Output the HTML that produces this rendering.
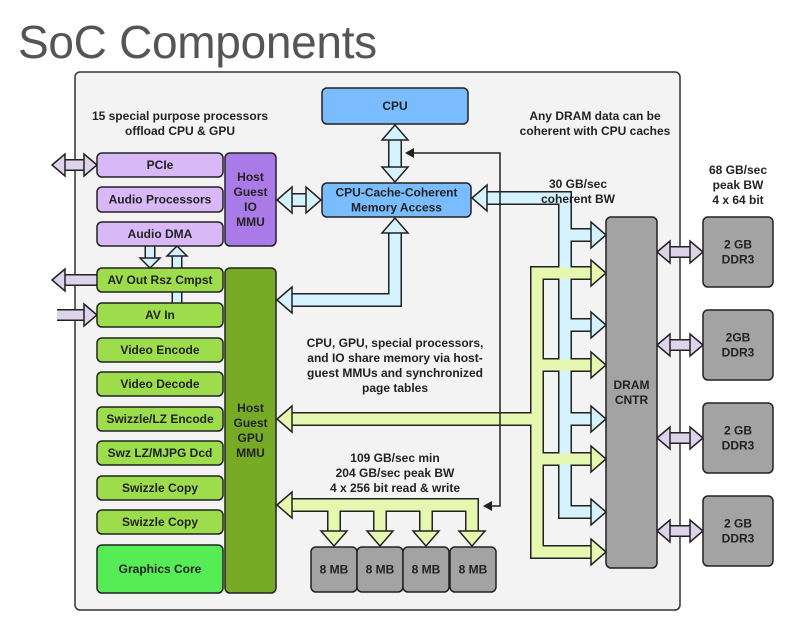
<!DOCTYPE html>
<html><head><meta charset="utf-8"><style>
body{margin:0;background:#fff;width:800px;height:618px;overflow:hidden;font-family:"Liberation Sans",sans-serif}
</style></head><body>
<svg id="s" width="800" height="618" xmlns="http://www.w3.org/2000/svg" font-family="Liberation Sans, sans-serif">
<text x="18" y="58" font-size="46" fill="#555" font-weight="normal" style="letter-spacing:-0.3px">SoC Components</text>
<rect x="75" y="72" width="605" height="538" rx="5" fill="#f3f3f3" stroke="#333" stroke-width="1.5"/>
<g id="arrows"></g>
<g id="boxes" stroke="#222" stroke-width="1.5"></g>
<g font-size="12" font-weight="bold" fill="#222" text-anchor="middle">
<text x="180" y="120">15 special purpose processors</text>
<text x="180" y="135">offload CPU &amp; GPU</text>
<text x="595" y="120">Any DRAM data can be</text>
<text x="595" y="135">coherent with CPU caches</text>
<text x="578" y="188">30 GB/sec</text>
<text x="578" y="203">coherent BW</text>
<text x="738" y="174">68 GB/sec</text>
<text x="738" y="189">peak BW</text>
<text x="738" y="204">4 x 64 bit</text>
<text x="395" y="347">CPU, GPU, special processors,</text>
<text x="395" y="362">and IO share memory via host-</text>
<text x="395" y="377">guest MMUs and synchronized</text>
<text x="395" y="392">page tables</text>
<text x="395" y="462">109 GB/sec min</text>
<text x="395" y="477">204 GB/sec peak BW</text>
<text x="395" y="492">4 x 256 bit read &amp; write</text>
</g>
</svg>
<script>
const A=document.getElementById('arrows'),B=document.getElementById('boxes'),S=document.getElementById('s');
const NS='http://www.w3.org/2000/svg';
function el(p,t,at){const e=document.createElementNS(NS,t);for(const k in at)e.setAttribute(k,at[k]);p.appendChild(e);return e;}
function shaft(d,c,w){w=w||11;el(A,'path',{d:d,fill:'none',stroke:'#222','stroke-width':w+3,'stroke-linejoin':'miter','stroke-linecap':'butt'});
 return ()=>el(A,'path',{d:d,fill:'none',stroke:c,'stroke-width':w,'stroke-linejoin':'miter','stroke-linecap':'butt'});}
let later=[],heads=[];
function S_(d,c,w){later.push(shaft(d,c,w));}
function H(x,y,dir,c,L,W){L=L||15;W=W||13;let p;
 if(dir=='r')p=[[x,y],[x-L,y-W],[x-L,y+W]];
 if(dir=='l')p=[[x,y],[x+L,y-W],[x+L,y+W]];
 if(dir=='u')p=[[x,y],[x-W,y+L],[x+W,y+L]];
 if(dir=='d')p=[[x,y],[x-W,y-L],[x+W,y-L]];
 heads.push([p.map(q=>q.join(',')).join(' '),c]);}
const BL='#d4f3ff',GR='#e6f8b0',LV='#ddd3ea';
// blue
S_('M395,138 V169',BL);H(395,125,'u',BL);H(395,182,'d',BL);
S_('M290,200 H308',BL);H(277,200,'l',BL);H(321,200,'r',BL);
S_('M395,232 V300 H291',BL);H(395,218,'u',BL);H(277,300,'l',BL);
S_('M486,198 H565 V512 H592',BL);H(472,198,'l',BL);
[235,325,419].forEach(y=>S_('M565,'+y+' H592',BL));
[235,325,419,512].forEach(y=>H(606,y,'r',BL));
// green
S_('M291,419 H537',GR);H(277,419,'l',GR);
S_('M592,273 H537 V552 H592',GR);
[365,459].forEach(y=>S_('M537,'+y+' H592',GR));
[273,365,459,552].forEach(y=>H(606,y,'r',GR));
S_('M291,505 H472 V533',GR);
[334,380,426].forEach(x=>S_('M'+x+',505 V533',GR));
H(277,505,'l',GR);[334,380,426,472].forEach(x=>H(x,546,'d',GR));
// lavender
S_('M64,165 H85',LV,9);H(52,165,'l',LV,13,11);H(97,165,'r',LV,13,11);
S_('M64,280 H97',LV,9);H(52,280,'l',LV,13,11);
S_('M57,315 H85',LV,9);H(97,315,'r',LV,13,11);
[252,345,438,531].forEach(y=>{S_('M669,'+y+' H691',LV,9);H(657,y,'l',LV,13,11);H(703,y,'r',LV,13,11);});
// small blue
S_('M150,246 V258',BL,8);H(150,268,'d',BL,10,10);
S_('M177,303 V256',BL,8);H(177,246,'u',BL,10,10);
later.forEach(f=>f());
heads.forEach(h=>el(A,'polygon',{points:h[0],fill:h[1],stroke:'#222','stroke-width':1.5,'stroke-linejoin':'miter'}));
// thin black line
el(A,'path',{d:'M412,153 H500 V506 H490',fill:'none',stroke:'#222','stroke-width':1.5});
el(A,'polygon',{points:'405,153 414,148 414,158',fill:'#222'});
el(A,'polygon',{points:'483,506 492,501 492,511',fill:'#222'});
// boxes
function box(x,y,w,h,c,lines,fs){el(B,'rect',{x:x,y:y,width:w,height:h,rx:5,fill:c});
 const n=lines.length,lh=15,cy=y+h/2-(n-1)*lh/2+4;
 lines.forEach((t,i)=>{const e=el(S,'text',{x:x+w/2,y:cy+i*lh,'font-size':fs||12,'font-weight':'bold',fill:'#222','text-anchor':'middle'});e.textContent=t;});}
const LP='#d9b8f7',DP='#aa7ae8',LG='#9ddc4a',DG='#77ab26';
box(97,153,126,24,LP,['PCIe']);box(97,187,126,25,LP,['Audio Processors']);box(97,222,126,24,LP,['Audio DMA']);
box(225,153,51,93,DP,['Host','Guest','IO','MMU']);
box(97,268,126,24,LG,['AV Out  Rsz Cmpst']);box(97,303,126,24,LG,['AV In']);
box(97,338,126,24,LG,['Video Encode']);box(97,372,126,24,LG,['Video Decode']);
box(97,407,126,24,LG,['Swizzle/LZ Encode']);box(97,441,126,24,LG,['Swz LZ/MJPG Dcd']);
box(97,476,126,24,LG,['Swizzle Copy']);box(97,510,126,24,LG,['Swizzle Copy']);
box(97,545,126,48,'#55ec55',['Graphics Core']);
box(225,268,51,325,DG,['Host','Guest','GPU','MMU']);
box(322,88,146,36,'#79bcff',['CPU']);
box(322,183,149,34,'#79bcff',['CPU-Cache-Coherent','Memory Access']);
box(606,217,51,351,'#a3a3a3',['DRAM','CNTR']);
box(703,217,70,70,'#a3a3a3',['2 GB','DDR3']);box(703,310,70,70,'#a3a3a3',['2GB','DDR3']);
box(703,403,70,70,'#a3a3a3',['2 GB','DDR3']);box(703,496,70,70,'#a3a3a3',['2 GB','DDR3']);
[311,357,403,450].forEach(x=>box(x,547,46,45,'#a3a3a3',['8 MB']));
</script>
</body></html>
